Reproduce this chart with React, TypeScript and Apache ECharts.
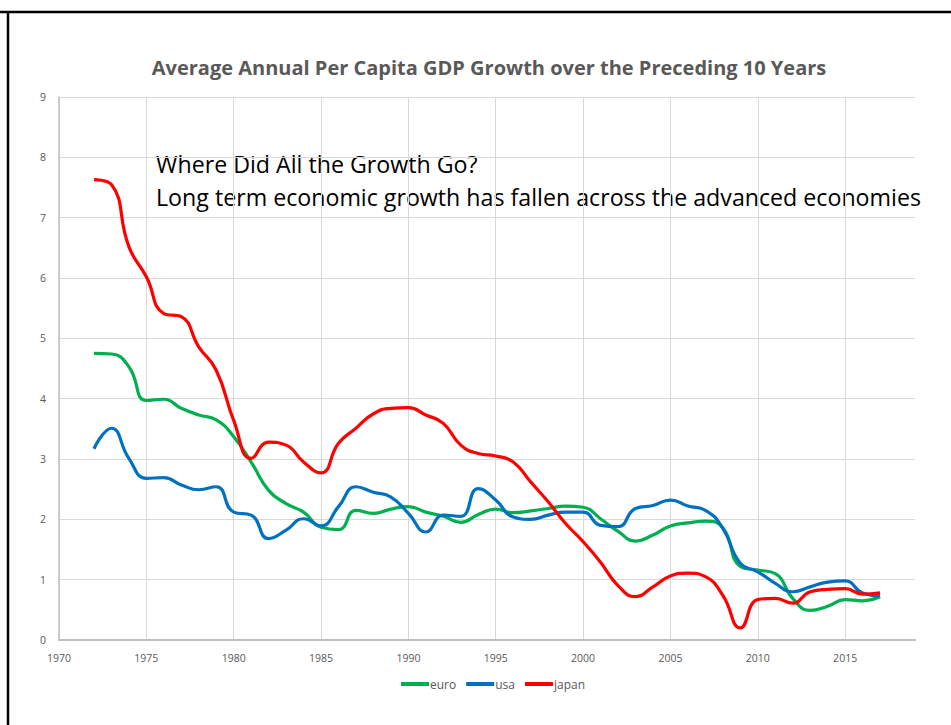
import React, { useEffect, useRef } from "react";
import * as echarts from "echarts";

// Years covered by each series (annual points)
const years: number[] = [
  1972, 1973, 1974, 1975, 1976, 1977, 1978, 1979, 1980, 1981,
  1982, 1983, 1984, 1985, 1986, 1987, 1988, 1989, 1990, 1991,
  1992, 1993, 1994, 1995, 1996, 1997, 1998, 1999, 2000, 2001,
  2002, 2003, 2004, 2005, 2006, 2007, 2008, 2009, 2010, 2011,
  2012, 2013, 2014, 2015, 2016, 2017,
];

// Average annual per capita GDP growth over the preceding 10 years (%)
const euro: number[] = [
  4.75, 4.74, 4.53, 3.97, 3.99, 3.84, 3.73, 3.65, 3.37, 2.95,
  2.48, 2.26, 2.12, 1.87, 1.83, 2.15, 2.1, 2.17, 2.21, 2.12,
  2.05, 1.95, 2.08, 2.17, 2.11, 2.14, 2.18, 2.22, 2.2, 2.01,
  1.8, 1.64, 1.74, 1.89, 1.94, 1.97, 1.86, 1.22, 1.16, 1.1,
  0.69, 0.49, 0.56, 0.67, 0.65, 0.72,
];

const usa: number[] = [
  3.17, 3.51, 3.01, 2.68, 2.69, 2.57, 2.49, 2.54, 2.12, 2.07,
  1.68, 1.82, 2.01, 1.89, 2.21, 2.54, 2.45, 2.37, 2.1, 1.79,
  2.07, 2.05, 2.51, 2.32, 2.04, 2.0, 2.07, 2.12, 2.12, 1.9,
  1.88, 2.18, 2.23, 2.32, 2.22, 2.15, 1.85, 1.27, 1.13, 0.94,
  0.8, 0.88, 0.96, 0.98, 0.78, 0.73,
];

const japan: number[] = [
  7.63, 7.55, 6.52, 6.02, 5.41, 5.36, 4.86, 4.47, 3.64, 3.01,
  3.28, 3.23, 2.95, 2.77, 3.26, 3.51, 3.75, 3.84, 3.85, 3.73,
  3.59, 3.23, 3.09, 3.05, 2.95, 2.62, 2.29, 1.93, 1.63, 1.29,
  0.9, 0.72, 0.88, 1.06, 1.11, 1.05, 0.74, 0.2, 0.67, 0.69,
  0.61, 0.8, 0.84, 0.85, 0.76, 0.78,
];

const seriesNames = ["euro", "usa", "japan"];
const seriesColors = ["#00B050", "#0070C0", "#FF0000"];

const chartTitle = "Average Annual Per Capita GDP Growth over the Preceding 10 Years";
const noteLines = [
  "Where Did All the Growth Go?",
  "Long term economic growth has fallen across the advanced economies",
];

const FONT = "'Open Sans', 'Noto Sans', sans-serif";

export default function App() {
  const ref = useRef<HTMLDivElement>(null);

  useEffect(() => {
    if (!ref.current) return;
    const chart = echarts.init(ref.current, undefined, { renderer: "svg" });
    const allValues = [euro, usa, japan];

    chart.setOption({
      animation: false,
      backgroundColor: "#ffffff",
      textStyle: { fontFamily: FONT },
      title: {
        text: chartTitle,
        left: 484,
        top: 52,
        textAlign: "center",
        textStyle: {
          fontFamily: FONT,
          fontSize: 20,
          fontWeight: "bold",
          color: "#595959",
        },
      },
      legend: {
        data: seriesNames,
        top: 673,
        left: 396,
        itemWidth: 28,
        itemHeight: 4,
        itemGap: 10,
        icon: "rect",
        textStyle: { fontFamily: FONT, fontSize: 12, color: "#595959", padding: [0, 0, 0, -4] },
      },
      grid: { left: 59, right: 36, top: 97, bottom: 85, containLabel: false },
      xAxis: {
        type: "value",
        min: 1970,
        max: 2019,
        interval: 5,
        axisLine: { show: true, lineStyle: { color: "#bfbfbf", width: 2 } },
        axisTick: { show: false },
        axisLabel: {
          showMaxLabel: false,
          color: "#595959",
          fontSize: 10.5,
          fontFamily: FONT,
          margin: 12,
          formatter: (v: number) => String(v),
        },
        splitLine: { show: true, showMaxLine: false, lineStyle: { color: "#d9d9d9", width: 1 } },
      },
      yAxis: {
        type: "value",
        min: 0,
        max: 9,
        interval: 1,
        axisLine: { show: true, lineStyle: { color: "#bfbfbf", width: 1.5 } },
        axisTick: { show: false },
        axisLabel: { color: "#595959", fontSize: 10.5, fontFamily: FONT, margin: 13 },
        splitLine: { show: true, lineStyle: { color: "#d9d9d9", width: 1 } },
      },
      series: seriesNames.map((name, i) => ({
        name,
        type: "line",
        smooth: 0.5,
        symbol: "none",
        color: seriesColors[i],
        lineStyle: { width: 3.2, color: seriesColors[i] },
        data: years.map((y, j) => [y, allValues[i][j]]),
      })),
      graphic: [
        {
          type: "line",
          shape: { x1: 0, y1: 12, x2: 951, y2: 12 },
          style: { stroke: "#000000", lineWidth: 2.5 },
          silent: true,
        },
        {
          type: "line",
          shape: { x1: 8, y1: 12, x2: 8, y2: 725 },
          style: { stroke: "#000000", lineWidth: 2.5 },
          silent: true,
        },
        ...noteLines.map((t, i) => ({
          type: "text",
          left: 156,
          top: 152 + i * 33,
          style: {
            text: t,
            fill: "#000000",
            font: `23.2px ${FONT}`,
          },
          silent: true,
        })),
      ],
    });

    return () => chart.dispose();
  }, []);

  return (
    <div
      ref={ref}
      style={{ position: "fixed", left: 0, top: 0, width: 951, height: 725, background: "#fff" }}
    />
  );
}
